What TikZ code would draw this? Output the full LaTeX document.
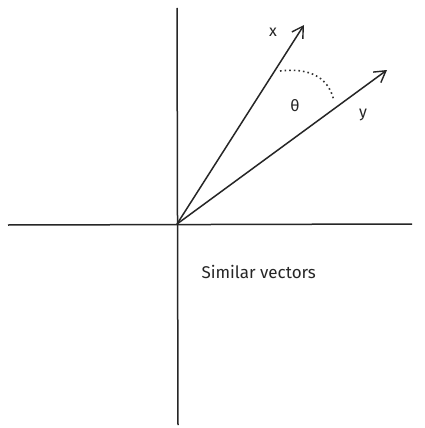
\documentclass[tikz,border=0pt]{standalone}
\usepackage{fontspec}
\setmainfont{Fira Sans}
\usetikzlibrary{arrows.meta}
\begin{document}
\begin{tikzpicture}[x=1pt,y=-1pt,
  axis/.style={line width=1.5pt,draw=black!85},
  vec/.style={line width=1.5pt,draw=black!85,-{Straight Barb[length=11pt,width=13pt,line width=1.4pt]}},
  lbl/.style={font=\fontsize{16}{18}\selectfont,text=black!85},
  arcline/.style={line width=1.6pt,dash pattern=on 1.6pt off 3pt,draw=black!80}]
\useasboundingbox[fill=white] (0,0) rectangle (425,428);
\coordinate (O) at (177,224);
\coordinate (top) at (177,8);
\coordinate (bot) at (178,425);
\coordinate (left) at (8,225);
\coordinate (right) at (412,224);
\coordinate (xt) at (304,25);
\coordinate (yt) at (387,70);
\draw[axis] (top) -- (bot);
\draw[axis] (left) -- (right);
\draw[vec] (O) -- (xt);
\draw[vec] (O) -- (yt);
\coordinate (a1) at (280,71);
\coordinate (a2) at (334,101);
\draw[arcline] (a1) .. controls (305,68) and (328,74) .. (a2);
\node[lbl] (xl) at (273,32) {x};
\node[lbl] (yl) at (363,115) {y};
\node[lbl] (th) at (295,106) {θ};
\node[lbl,anchor=west,font=\fontsize{17}{19}\selectfont] (cap) at (198,272) {Similar vectors};
\end{tikzpicture}
\end{document}
